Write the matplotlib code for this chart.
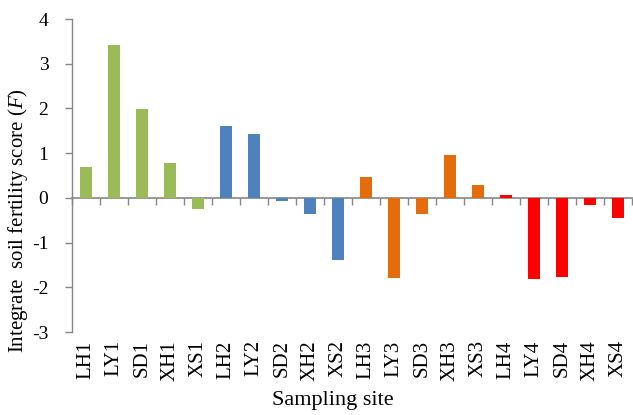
import matplotlib
matplotlib.use("Agg")
import matplotlib.pyplot as plt
import numpy as np

sites = ["LH1", "LY1", "SD1", "XH1", "XS1",
         "LH2", "LY2", "SD2", "XH2", "XS2",
         "LH3", "LY3", "SD3", "XH3", "XS3",
         "LH4", "LY4", "SD4", "XH4", "XS4"]
scores = [0.69, 3.42, 1.98, 0.79, -0.26,
          1.60, 1.42, -0.06, -0.37, -1.40,
          0.46, -1.79, -0.37, 0.95, 0.28,
          0.07, -1.81, -1.76, -0.17, -0.44]
group_colors = ["#9BBB59", "#4F81BD", "#E46C0A", "#FF0000"]
group_of_site = [0]*5 + [1]*5 + [2]*5 + [3]*5
yticks = [-3, -2, -1, 0, 1, 2, 3, 4]

plt.rcParams["font.family"] = ["Liberation Serif", "DejaVu Serif"]
plt.rcParams["mathtext.fontset"] = "custom"
plt.rcParams["mathtext.it"] = "Liberation Serif:italic"
plt.rcParams["mathtext.rm"] = "Liberation Serif"

W, H = 633, 415
fig = plt.figure(figsize=(W/100, H/100), dpi=100)
ax = fig.add_axes([72/W, 1-332/H, (632-72)/W, (332-19)/H])

grey = "#868686"
x = np.arange(len(sites))
colors = [group_colors[g] for g in group_of_site]
ax.bar(x, scores, width=0.43, color=colors, zorder=3)

ax.set_xlim(-0.5, len(sites)-0.5)
ax.set_ylim(-3, 4)
ax.set_yticks(yticks)
ax.set_yticklabels([str(v) for v in yticks], fontsize=14)
ax.tick_params(axis="y", direction="out", length=5, width=1, color=grey, pad=12)

ax.set_xticks(x)
ax.set_xticklabels(sites, rotation=90, fontsize=15)
ax.tick_params(axis="x", length=0, pad=6)

for s in ["top", "right", "bottom"]:
    ax.spines[s].set_visible(False)
ax.spines["left"].set_color(grey)
ax.spines["left"].set_linewidth(1)

# zero line with boundary ticks
sec = ax.secondary_xaxis(3/7)
sec.set_xticks(np.arange(-0.5, len(sites), 1.0))
sec.set_xticklabels([])
sec.tick_params(axis="x", direction="out", length=5, width=1, color=grey)
sec.spines["bottom"].set_color(grey)
sec.spines["bottom"].set_linewidth(1.2)

fig.text(333/W, 1-400/H, "Sampling site", ha="center", va="center", fontsize=16)
fig.text(18/W, 1-221/H, "Integrate  soil fertility score ($\\mathit{F}$)",
         ha="center", va="center", rotation=90, fontsize=15)

fig.savefig("out.png", dpi=100)
